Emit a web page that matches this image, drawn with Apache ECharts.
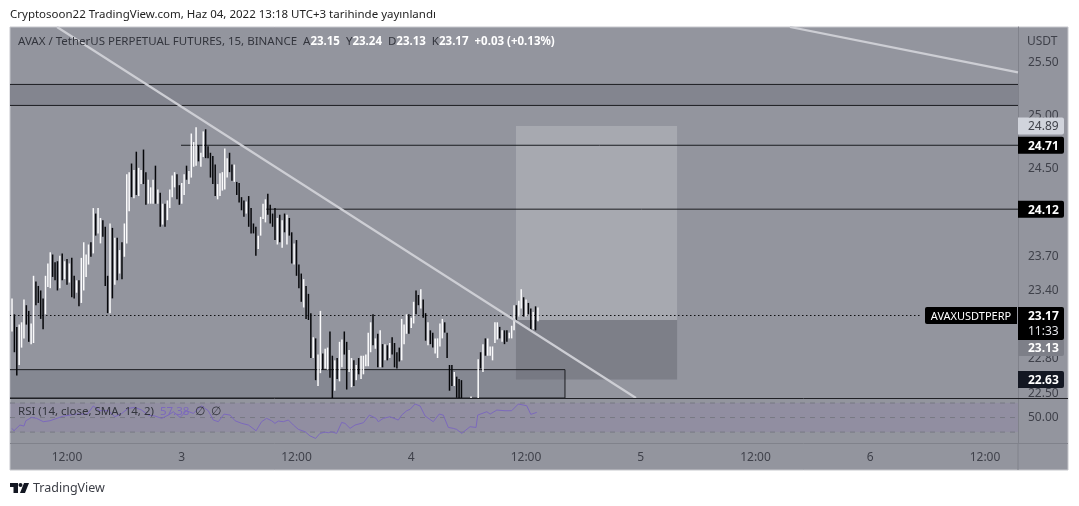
<!DOCTYPE html>
<html><head><meta charset="utf-8">
<style>html,body{margin:0;padding:0;background:#fff}#c{width:1079px;height:506px}</style>
<script src="https://cdn.jsdelivr.net/npm/echarts@6/dist/echarts.min.js"></script>
</head><body><div id="c"></div>
<script>
const FONT = '"Noto Sans", Tahoma, sans-serif';
const firstBar = -23;
const highs = [23.32,23.18,23.07,23.09,23.11,23.31,23.26,23.21,23.10,23.52,23.47,23.43,23.39,23.32,23.52,23.63,23.73,23.71,23.64,23.65,23.70,23.72,23.65,23.67,23.63,23.68,23.52,23.48,23.48,23.68,23.82,23.71,23.80,23.82,24.13,24.08,24.13,24.04,24.02,23.96,23.52,23.99,23.95,23.86,23.86,23.75,23.82,23.99,24.44,24.46,24.54,24.48,24.65,24.50,24.48,24.67,24.46,24.39,24.32,24.39,24.52,24.30,24.27,24.17,24.17,24.20,24.30,24.43,24.46,24.44,24.34,24.36,24.44,24.52,24.47,24.82,24.74,24.88,24.71,24.64,24.84,24.86,24.70,24.64,24.61,24.53,24.35,24.45,24.46,24.68,24.59,24.64,24.53,24.53,24.37,24.36,24.23,24.20,24.19,24.24,24.13,23.99,23.96,23.88,24.05,24.17,24.21,24.26,24.16,24.08,24.13,24.04,24.07,24.02,24.08,24.07,24.04,23.91,23.81,23.84,23.62,23.54,23.49,23.43,23.36,23.19,22.98,22.97,22.83,23.21,22.84,22.88,22.89,23.03,22.82,22.78,22.80,22.94,22.96,23.03,22.94,22.87,22.80,22.78,22.74,22.80,22.82,22.82,22.83,23.02,23.11,23.18,22.97,23.01,23.04,22.92,22.92,22.91,22.93,22.98,22.93,22.85,22.89,23.14,23.09,23.18,23.18,23.15,23.29,23.39,23.35,23.40,23.31,23.19,23.11,23.04,23.02,22.97,22.97,23.10,23.14,23.11,23.02,22.74,22.74,22.68,22.64,22.62,22.61,22.43,22.41,22.44,22.47,22.44,22.45,22.79,22.85,22.92,22.97,22.97,22.90,22.90,23.11,23.11,23.07,23.04,23.04,23.04,23.02,23.08,23.26,23.26,23.30,23.40,23.33,23.31,23.28,23.23,23.20,23.25,23.24];
const lows = [23.03,22.85,22.65,22.74,22.89,22.97,23.09,22.94,22.92,22.93,23.26,23.28,23.14,23.05,23.18,23.42,23.41,23.51,23.48,23.39,23.41,23.48,23.49,23.44,23.46,23.33,23.32,23.37,23.25,23.28,23.39,23.51,23.62,23.69,23.72,23.88,23.90,23.81,23.87,23.43,23.19,23.19,23.32,23.44,23.48,23.54,23.49,23.69,23.81,24.10,24.23,24.22,24.25,24.24,24.35,24.35,24.16,24.17,24.17,24.17,24.17,24.17,23.96,23.98,23.96,24.02,24.13,24.23,24.32,24.21,24.16,24.17,24.25,24.39,24.35,24.41,24.51,24.52,24.56,24.51,24.60,24.59,24.59,24.41,24.35,24.24,24.21,24.24,24.29,24.30,24.41,24.46,24.38,24.37,24.25,24.18,24.11,24.05,24.08,23.96,23.90,23.90,23.70,23.76,23.88,24.03,24.00,24.07,23.99,23.96,23.84,23.80,23.82,23.77,23.91,23.80,23.88,23.63,23.62,23.52,23.41,23.29,23.24,23.14,23.13,22.80,22.80,22.61,22.56,22.67,22.70,22.71,22.70,22.63,22.44,22.52,22.62,22.60,22.72,22.83,22.53,22.68,22.55,22.56,22.61,22.66,22.62,22.66,22.73,22.73,22.85,22.91,22.88,22.72,22.72,22.72,22.78,22.78,22.80,22.83,22.72,22.71,22.77,22.78,22.92,23.01,23.01,23.06,23.10,23.18,23.26,23.23,23.15,22.95,22.91,22.92,22.89,22.84,22.80,22.90,22.97,23.02,22.80,22.52,22.56,22.56,22.46,22.45,22.44,22.30,22.28,22.32,22.33,22.35,22.36,22.40,22.71,22.68,22.82,22.82,22.82,22.78,22.93,22.96,22.97,22.94,22.92,22.94,22.97,22.97,23.04,23.12,23.16,23.23,23.16,23.16,23.18,23.04,23.05,23.04,23.12];
const rising = [1,0,0,1,1,1,0,0,1,1,0,0,0,0,1,1,1,0,0,0,1,0,1,0,1,0,0,1,0,1,1,1,1,0,1,0,1,1,0,0,0,1,0,1,0,1,0,1,1,1,0,1,0,1,1,0,0,1,1,1,0,1,0,1,0,1,1,1,1,0,0,1,1,0,1,1,1,1,0,1,1,0,0,0,0,0,1,1,1,1,1,0,0,1,0,0,0,0,1,0,0,0,0,1,1,1,1,0,0,0,0,1,0,1,0,1,0,0,1,0,0,0,1,0,0,0,1,0,1,1,0,1,1,0,0,1,0,1,1,0,0,1,1,0,1,0,1,1,1,1,1,0,1,0,1,0,1,0,1,0,0,0,0,1,1,1,0,1,1,0,0,1,0,0,1,0,0,1,1,1,1,0,0,0,0,1,0,0,0,0,0,0,1,0,0,1,0,1,0,1,1,1,1,1,0,1,0,0,1,1,1,0,1,1,0,1,0,0,1,0,1];
const rsiIndex = [-23,-22.2,-19.7,-18,-17.2,-14.8,-12.7,-9.9,-7.1,-1.5,4,8.5,11,13.8,17.3,20,22.9,25.6,28.4,31.2,34,36.8,39.6,42.4,44.5,47.3,50,52.8,56.3,59.1,61.2,63.3,65.7,68.2,70.3,73.1,75.9,79.1,81.4,83.5,85.6,87,88.4,90.5,92.6,94.7,96.8,99.6,101.6,104,105.8,107.9,109.3,110.7,112.8,114.9,116.3,118.4,120.5,124,126.5,129.3,130.2,132.3,135.1,138.6,140,142.1,143.5,145.6,147.7,149.8,153.2,155.7,157.4,159.5,161.6,163,165.1,168.6,171.1,171.8,175.6,177,179.8,183.2,186,188.8,192.3,194,196.5];
const rsiValues = [35.1,31.8,39.7,38.3,45.6,50.2,48.9,44.3,45.6,52.1,54.8,54.8,65.9,59.4,59.4,51.1,55.7,62.6,64,60.3,53.4,52.1,48.9,53.4,58,50.2,59.4,55.7,65.9,59.4,46.6,44.3,54.8,53.4,45.6,42,39.7,31.8,44.3,48.9,45.6,42,45.2,44.3,46.6,39.7,33.7,30.5,24.9,21.3,28.2,30,29.1,30.5,28.2,43.3,42,35.1,39.7,42.9,53.4,48.9,44.3,48.9,51.1,46.6,53.4,59.4,61.3,68.6,65.9,52.1,44.3,54.8,53.4,36.4,35.1,33.7,28.2,37.4,36.4,53.4,58,54.8,60.3,59.4,59.4,68.6,66.3,54.4,57.1];
const timeTicks = [0,48,96,144,192,240,288,336,384];
const timeLabels = ['12:00','3','12:00','4','12:00','5','12:00','6','12:00'];
const priceTicks = [25.5,25,24.5,23.7,23.4,22.8,22.5];
const rsiTicks = [50];
const rsiGuides = [70,50,30];
const levels = [
  [-23.84,25.285],[397.8,25.285],null,
  [-23.84,25.085],[397.8,25.085],null,
  [47.7,24.71],[397.8,24.71],null,
  [82.8,24.12],[397.8,24.12]
];
const trendA = [[-4.18,25.84],[238,22.458]];
const trendB = [[302.4,25.84],[397.8,25.40]];
const lastPriceLine = [[-23.84,23.17],[357.6,23.17]];
const zones = [
  [-23.84,397.8,25.285,25.085,'#83858f','none'],
  [187.8,255.2,24.89,23.13,'#a7a9b0','none'],
  [187.8,255.2,23.13,22.615,'#7d7f88','none'],
  [-24.5,208.3,22.70,22.458,'rgba(110,112,122,0.35)','#1b1c20']
];
const tags = [
  [24.89,'24.89','#d1d4dc','#41434b','normal'],
  [24.71,'24.71','#000000','#ffffff','bold'],
  [24.12,'24.12','#000000','#ffffff','bold'],
  [22.89,'23.13','#7d7f88','#ffffff','bold'],
  [22.615,'22.63','#131722','#ffffff','bold']
];
const lastTag = [23.17,'23.17','11:33','AVAXUSDTPERP'];
const titleText = 'Cryptosoon22 TradingView.com, Haz 04, 2022 13:18 UTC+3 tarihinde yayınlandı';
const XMIN = -23.84, XMAX = 397.8;

const barData = highs.map((h,i)=>[firstBar+i,h,lows[i],rising[i]]);
const rsiData = rsiIndex.map((x,i)=>[x,rsiValues[i]]);
const lineStyle0 = {color:'#1b1c20',width:1};

function lineSeries(name,data,style,z,axis){
  return {name,type:'line',xAxisIndex:axis||0,yAxisIndex:axis||0,data,showSymbol:false,silent:true,connectNulls:false,
    lineStyle:style,z,clip:true,animation:false};
}
const chart = echarts.init(document.getElementById('c'),null,{renderer:'canvas'});
chart.setOption({
  animation:false,
  backgroundColor:'#ffffff',
  textStyle:{fontFamily:FONT},
  grid:[
    {left:10,top:27,width:1008,height:371},
    {left:10,top:398,width:1008,height:45}
  ],
  xAxis:[
    {type:'value',gridIndex:0,min:XMIN,max:XMAX,axisLine:{show:false},axisTick:{show:false},axisLabel:{show:false},splitLine:{show:false}},
    {type:'value',gridIndex:1,min:XMIN,max:XMAX,axisLine:{show:false},axisTick:{show:false},splitLine:{show:false},
     axisLabel:{show:true,customValues:timeTicks,margin:9,fontSize:12,color:'#3f414a',fontFamily:FONT,showMinLabel:true,showMaxLabel:true,
       formatter:v=>timeLabels[timeTicks.indexOf(v)]}}
  ],
  yAxis:[
    {type:'log',gridIndex:0,position:'right',min:22.458,max:25.84,logBase:10,axisLine:{show:true,onZero:false,lineStyle:{color:'#80828b'}},axisTick:{show:false},splitLine:{show:false},minorTick:{show:false},axisLabel:{show:false}},
    {type:'value',gridIndex:1,position:'right',min:15,max:76.9,axisLine:{show:true,onZero:false,lineStyle:{color:'#80828b'}},axisTick:{show:false},splitLine:{show:false},
     axisLabel:{show:true,customValues:rsiTicks,margin:10,padding:[2,0,0,0],fontSize:12,color:'#3f414a',fontFamily:FONT,formatter:v=>v.toFixed(2)}}
  ],
  series:[
    {name:'zones',type:'custom',xAxisIndex:0,yAxisIndex:0,z:1,clip:true,silent:true,data:zones.map(z=>[z[0],z[1],z[2],z[3]]),
     encode:{x:[0,1],y:[2,3]},
     renderItem(p,api){
       const z=zones[p.dataIndex];
       const a=api.coord([api.value(0),api.value(2)]),b=api.coord([api.value(1),api.value(3)]);
       return {type:'rect',shape:{x:a[0],y:a[1],width:b[0]-a[0],height:b[1]-a[1]},style:{fill:z[4],stroke:z[5]==='none'?null:z[5],lineWidth:1}};
     }},
    {name:'rsiBand',type:'custom',xAxisIndex:1,yAxisIndex:1,z:1,silent:true,data:[[XMIN,XMAX,70,30]],encode:{x:[0,1],y:[2,3]},
     renderItem(p,api){
       const a=api.coord([api.value(0),api.value(2)]),b=api.coord([api.value(1),api.value(3)]);
       return {type:'rect',shape:{x:a[0],y:a[1],width:b[0]-a[0],height:b[1]-a[1]},style:{fill:'rgba(126,87,194,0.10)'}};
     }},
    ...rsiGuides.map((g,i)=>lineSeries('guide'+i,[[XMIN,g],[XMAX,g]],{color:'#777983',width:1,type:[5,5]},2,1)),
    lineSeries('levels',levels.map(l=>l||[null,null]),lineStyle0,3),
    lineSeries('last',lastPriceLine,{color:'#101114',width:1.1,type:[1.5,2.5]},3),
    {name:'bars',type:'custom',xAxisIndex:0,yAxisIndex:0,z:4,clip:true,silent:true,data:barData,encode:{x:0,y:[1,2]},
     renderItem(p,api){
       const a=api.coord([api.value(0),api.value(1)]),b=api.coord([api.value(0),api.value(2)]);
       return {type:'line',shape:{x1:a[0],y1:a[1],x2:b[0],y2:b[1]},style:{stroke:api.value(3)?'#fbfbfc':'#06070a',lineWidth:1.5}};
     }},
    lineSeries('trendA',trendA,{color:'#cdced4',width:2.2},5),
    lineSeries('trendB',trendB,{color:'#cdced4',width:2.2},5),
    lineSeries('rsi',rsiData,{color:'#7c69bd',width:1},6,1),
    {name:'tags',type:'custom',xAxisIndex:0,yAxisIndex:0,z:10,clip:false,silent:true,data:tags.map(t=>[XMAX,t[0]]),encode:{x:0,y:1},
     renderItem(p,api){
       const t=tags[p.dataIndex],c=api.coord([api.value(0),api.value(1)]);
       return {type:'group',children:[
         {type:'rect',shape:{x:c[0],y:c[1]-8.5,width:46,height:17,r:[0,2,2,0]},style:{fill:t[2]}},
         {type:'text',style:{x:c[0]+10,y:c[1]+1,text:t[1],fill:t[3],font:t[4]+' 12px '+FONT,verticalAlign:'middle',align:'left'}}
       ]};
     }},
    {name:'lastTag',type:'custom',xAxisIndex:0,yAxisIndex:0,z:10,clip:false,silent:true,data:[[XMAX,lastTag[0]]],encode:{x:0,y:1},
     renderItem(p,api){
       const c=api.coord([api.value(0),api.value(1)]);
       return {type:'group',children:[
         {type:'rect',shape:{x:c[0],y:c[1]-8.5,width:46,height:33,r:[0,2,2,0]},style:{fill:'#000'}},
         {type:'text',style:{x:c[0]+10,y:c[1]+1,text:lastTag[1],fill:'#fff',font:'bold 12px '+FONT,verticalAlign:'middle'}},
         {type:'text',style:{x:c[0]+10,y:c[1]+16.5,text:lastTag[2],fill:'#e4e5e9',font:'12px '+FONT,verticalAlign:'middle'}},
         {type:'rect',shape:{x:c[0]-93,y:c[1]-8.5,width:92,height:17,r:[2,0,0,2]},style:{fill:'#000'}},
         {type:'text',style:{x:c[0]-47,y:c[1]+1,text:lastTag[3],fill:'#fff',font:'11px '+FONT,verticalAlign:'middle',align:'center'}}
       ]};
     }},
    {name:'priceTicks',type:'custom',xAxisIndex:0,yAxisIndex:0,z:8,clip:false,silent:true,data:priceTicks.map(t=>[XMAX,t]),encode:{x:0,y:1},
     renderItem(p,api){
       const c=api.coord([api.value(0),api.value(1)]);
       return {type:'text',style:{x:c[0]+10,y:c[1]+1,text:api.value(1).toFixed(2),fill:'#3f414a',font:'12px '+FONT,verticalAlign:'middle'}};
     }}
  ],
  graphic:[
    {type:'rect',z:-10,silent:true,shape:{x:10,y:27,width:1058,height:443},style:{fill:'#93959e',stroke:'#c6c7cc',lineWidth:1}},
    {type:'line',z:20,silent:true,shape:{x1:10,y1:398.5,x2:1068,y2:398.5},style:{stroke:'#1f2025',lineWidth:1}},
    {type:'line',z:20,silent:true,shape:{x1:10,y1:443.5,x2:1068,y2:443.5},style:{stroke:'#80828b',lineWidth:1}},
    {type:'line',z:20,silent:true,shape:{x1:1018,y1:443,x2:1018,y2:470},style:{stroke:'#80828b',lineWidth:1}},
    {type:'text',z:20,silent:true,x:10,y:9,style:{text:titleText,font:'11.5px '+FONT,fill:'#222'}},
    {type:'text',z:20,silent:true,x:1027,y:36,style:{text:'USDT',font:'12px '+FONT,fill:'#3f414a'}},
    {type:'text',z:20,silent:true,x:18,y:36,style:{
      text:'AVAX / TetherUS PERPETUAL FUTURES, 15, BINANCE  A{v|23.15}  Y{v|23.24}  D{v|23.13}  K{v|23.17}  {v|+0.03 (+0.13%)}',
      font:'11.5px '+FONT,fill:'#33353d',rich:{v:{fill:'#ffffff',font:'bold 11.5px '+FONT}}}},
    {type:'text',z:20,silent:true,x:18,y:406,style:{
      text:'RSI (14, close, SMA, 14, 2)  {p|57.38}  ∅  ∅',font:'11.5px '+FONT,fill:'#33353d',rich:{p:{fill:'#7c69bd',font:'11.5px '+FONT}}}},
    {type:'group',z:20,silent:true,children:[
      {type:'rect',shape:{x:10,y:483,width:8,height:4},style:{fill:'#131722'}},
      {type:'rect',shape:{x:13.5,y:483,width:4.5,height:10},style:{fill:'#131722'}},
      {type:'circle',shape:{cx:20.5,cy:485,r:2},style:{fill:'#131722'}},
      {type:'polygon',shape:{points:[[24,483],[29,483],[25,493],[20,493]]},style:{fill:'#131722'}}
    ]},
    {type:'text',z:20,silent:true,x:33,y:482,style:{text:'TradingView',font:'12.5px '+FONT,fill:'#3c3e46'}}
  ]
});
</script></body></html>
